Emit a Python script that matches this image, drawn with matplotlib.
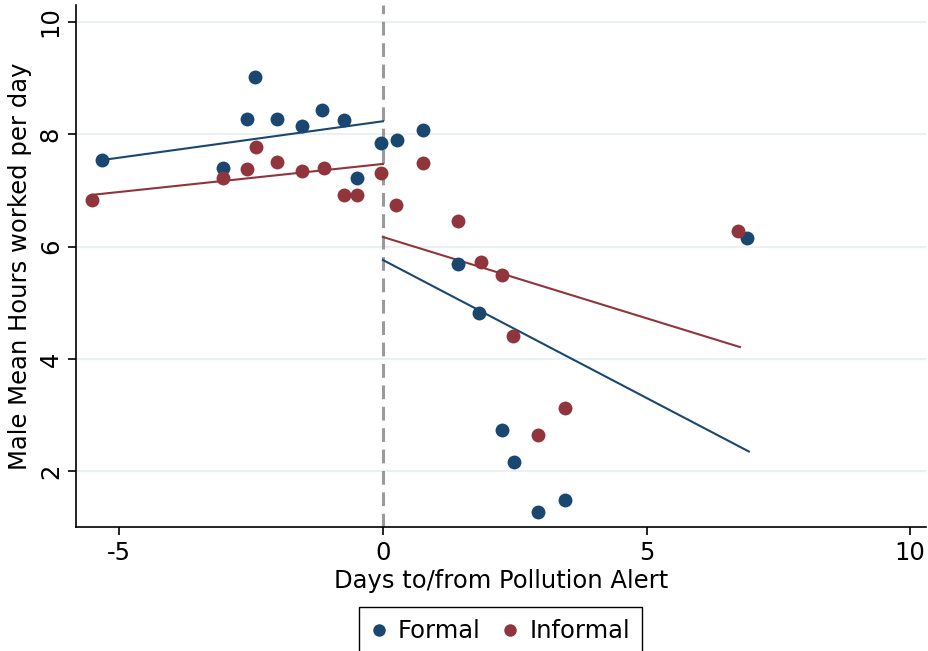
import numpy as np
import matplotlib
matplotlib.use("Agg")
import matplotlib.pyplot as plt

# binned means by day relative to the alert
formal_x = [-5.32, -3.04, -2.42, -2.57, -2.00, -1.53, -1.15, -0.74, -0.49, -0.04,
            0.26, 0.77, 1.42, 1.83, 2.26, 2.49, 2.94, 3.45, 6.91]
formal_y = [7.54, 7.40, 9.02, 8.27, 8.27, 8.15, 8.43, 8.25, 7.22, 7.84,
            7.90, 8.07, 5.69, 4.81, 2.73, 2.16, 1.27, 1.48, 6.15]

informal_x = [-5.51, -3.04, -2.57, -2.40, -2.00, -1.53, -1.11, -0.74, -0.49, -0.04,
              0.25, 0.77, 1.42, 1.87, 2.26, 2.47, 2.94, 3.45, 6.74]
informal_y = [6.83, 7.22, 7.38, 7.77, 7.50, 7.34, 7.40, 6.92, 6.92, 7.31,
              6.74, 7.49, 6.45, 5.72, 5.49, 4.40, 2.64, 3.12, 6.27]

# linear fits: (x start, x end) and (y start, y end)
fit_formal_pre_x = [-5.32, 0.0]
fit_formal_pre_y = [7.54, 8.23]
fit_informal_pre_x = [-5.51, 0.0]
fit_informal_pre_y = [6.92, 7.47]
fit_formal_post_x = [0.0, 6.94]
fit_formal_post_y = [5.76, 2.35]
fit_informal_post_x = [0.0, 6.77]
fit_informal_post_y = [6.17, 4.21]

xticks = [-5, 0, 5, 10]
yticks = [2, 4, 6, 8, 10]

BLUE = "#1a476f"
RED = "#90353b"
FS = 17.5

plt.rcParams["font.family"] = "DejaVu Sans"
plt.rcParams["axes.unicode_minus"] = False

fig = plt.figure(figsize=(9.29, 6.51), dpi=100)
ax = fig.add_axes([0.0818, 0.19, 0.915, 0.8023])

for y in yticks:
    ax.axhline(y, color="#e8f0f2", lw=1.3, zorder=0)

ax.axvline(0, color="#9a9a9a", lw=2.2, ls=(0, (4.5, 2.5)), zorder=1)

ax.plot(fit_formal_pre_x, fit_formal_pre_y, color=BLUE, lw=1.5, zorder=2)
ax.plot(fit_informal_pre_x, fit_informal_pre_y, color=RED, lw=1.5, zorder=2)
ax.plot(fit_formal_post_x, fit_formal_post_y, color=BLUE, lw=1.5, zorder=2)
ax.plot(fit_informal_post_x, fit_informal_post_y, color=RED, lw=1.5, zorder=2)

ax.plot(formal_x, formal_y, "o", color=BLUE, ms=10, mew=0, label="Formal", zorder=3)
ax.plot(informal_x, informal_y, "o", color=RED, ms=10, mew=0, label="Informal", zorder=3)

ax.set_xlim(-5.82, 10.3)
ax.set_ylim(1.0, 10.3)
ax.set_xticks(xticks)
ax.set_yticks(yticks)
ax.set_xticklabels([str(t) for t in xticks], fontsize=FS)
ax.set_yticklabels([str(t) for t in yticks], fontsize=FS, rotation=90, va="center")
ax.tick_params(direction="out", length=6, width=1.2, colors="black")

for side in ["top", "right"]:
    ax.spines[side].set_visible(False)
for side in ["left", "bottom"]:
    ax.spines[side].set_linewidth(1.2)

ax.set_xlabel("Days to/from Pollution Alert", fontsize=FS, labelpad=3)
ax.set_ylabel("Male Mean Hours worked per day", fontsize=FS, labelpad=5)

fig.legend(loc="upper center", bbox_to_anchor=(0.539, 0.0676), ncol=2,
           fontsize=FS, frameon=True, fancybox=False, edgecolor="black",
           framealpha=1, handlelength=0.6, handletextpad=0.5,
           columnspacing=0.9, borderpad=0.5, borderaxespad=0,
           markerscale=0.9)

fig.savefig("out.png", dpi=100)
